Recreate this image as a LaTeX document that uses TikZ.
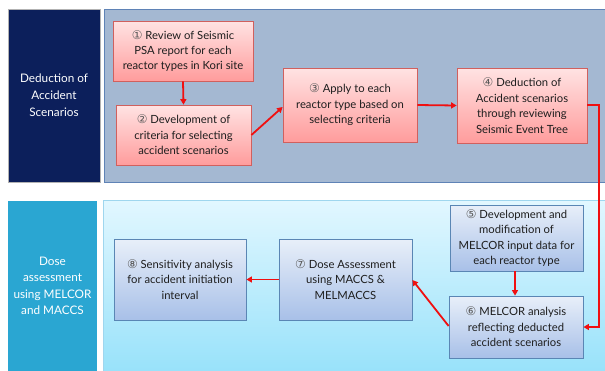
\documentclass[tikz,border=0pt]{standalone}
\usepackage{fontspec}
\setmainfont{Lato}
\newfontfamily\dvs{DejaVu Sans}
\usetikzlibrary{arrows.meta}
\definecolor{navy}{HTML}{0C1F5B}
\definecolor{toppanel}{HTML}{A4B8D2}
\definecolor{toppanelb}{HTML}{5F83B6}
\definecolor{cyanbox}{HTML}{2AA6D2}
\definecolor{botpaneltop}{HTML}{E2F7FF}
\definecolor{botpanelbot}{HTML}{98E2FA}
\definecolor{botpanelb}{HTML}{9FD6EE}
\definecolor{redtop}{HTML}{FFE3E3}
\definecolor{redbot}{HTML}{FF9C9C}
\definecolor{redborder}{HTML}{D0605E}
\definecolor{bluetop}{HTML}{E8EFF9}
\definecolor{bluebot}{HTML}{A8C0E8}
\definecolor{blueborder}{HTML}{5A86B4}
\definecolor{arrowred}{HTML}{F01010}
\definecolor{txt}{HTML}{1E1E1E}
\newcommand{\cn}[1]{{\dvs\fontsize{12}{15.5}\selectfont\color{gray!70!black}#1}}
\begin{document}
\begin{tikzpicture}[x=1bp,y=-1bp,
  txtstyle/.style={font=\fontsize{11.3}{15.5}\selectfont, text=txt, align=center},
  redbox/.style={txtstyle, draw=redborder, line width=0.8pt, top color=redtop, bottom color=redbot, inner sep=0pt},
  bluebox/.style={txtstyle, draw=blueborder, line width=0.8pt, top color=bluetop, bottom color=bluebot, inner sep=0pt},
  flow/.style={draw=arrowred, line width=1.8pt, -{Triangle[length=5.5pt,width=6pt]}},
]
\useasboundingbox (0,0) rectangle (605,370);
\fill[white] (0,0) rectangle (605,370);
% panels
\node[fill=navy, draw=gray!60, line width=0.6pt, minimum width=92bp, minimum height=173bp, inner sep=0pt,
  text=white, align=center, font=\fontsize{11.8}{17}\selectfont] (sideA) at (54,95.5) {Deduction of\\Accident\\Scenarios};
\node[fill=toppanel, draw=toppanelb, line width=0.8pt, minimum width=505bp, minimum height=173bp, inner sep=0pt] (panelA) at (356.5,95.5) {};
\node[fill=cyanbox, minimum width=89bp, minimum height=170bp, inner sep=0pt,
  text=white, align=center, font=\fontsize{11.8}{16.5}\selectfont] (sideB) at (52.5,286) {Dose\\assessment\\using MELCOR\\and MACCS};
\node[top color=botpaneltop, bottom color=botpanelbot, draw=botpanelb, line width=0.8pt, minimum width=505bp, minimum height=172bp, inner sep=0pt] (panelB) at (356,286) {};
% boxes
\node[redbox, minimum width=140bp, minimum height=60bp] (b1) at (183,51) {\cn{①} Review of Seismic\\PSA report for each\\reactor types in Kori site};
\node[redbox, minimum width=135bp, minimum height=60bp] (b2) at (183.5,135) {\cn{②} Development of\\criteria for selecting\\accident scenarios};
\node[redbox, minimum width=134bp, minimum height=74bp] (b3) at (350,105) {\cn{③} Apply to each\\reactor type based on\\selecting criteria};
\node[redbox, minimum width=130bp, minimum height=75bp] (b4) at (522,105.5) {\cn{④} Deduction of\\Accident scenarios\\through reviewing\\Seismic Event Tree};
\node[bluebox, minimum width=133bp, minimum height=66bp] (b5) at (516.5,238) {\cn{⑤} Development and\\modification of\\MELCOR input data for\\each reactor type};
\node[bluebox, minimum width=134bp, minimum height=62bp] (b6) at (516,327) {\cn{⑥} MELCOR analysis\\reflecting deducted\\accident scenarios};
\node[bluebox, minimum width=133bp, minimum height=81bp] (b7) at (345.5,279.5) {\cn{⑦} Dose Assessment\\using MACCS \&\\MELMACCS};
\node[bluebox, minimum width=132bp, minimum height=81bp] (b8) at (180,279.5) {\cn{⑧} Sensitivity analysis\\for accident initiation\\interval};
% connectors
\coordinate (c1) at (599,105);
\coordinate (c2) at (599,327);
\draw[flow] (b1.south) -- (b2.north);
\draw[flow] (b2.east |- 0,135) -- (b3.west |- 0,107);
\draw[flow] (b3.east) -- (b4.west);
\draw[flow] (b4.east |- c1) -- (c1) -- (c2) -- (b6.east |- c2);
\draw[flow] (b5.south -| 515,0) -- (b6.north -| 515,0);
\draw[flow] (b6.west |- 0,326) -- (b7.east |- 0,280);
\draw[flow] (b7.west) -- (b8.east);
\end{tikzpicture}
\end{document}
